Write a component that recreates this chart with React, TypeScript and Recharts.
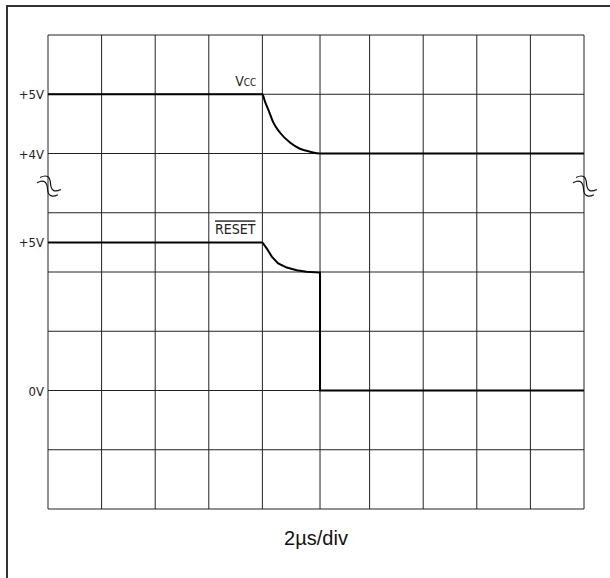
import React from 'react';
import {
  LineChart,
  Line,
  XAxis,
  YAxis,
  CartesianGrid,
  ReferenceDot,
} from 'recharts';

// time axis, microseconds (2us per division)
const TIME_TICKS = [0, 2, 4, 6, 8, 10.15, 12, 14, 16, 18, 20];
// graticule rows, in Vcc volts (1V/div)
const ROW_TICKS = [-2, -1, 0, 1, 2, 3, 4, 5, 6];

// Vcc trace (1V/div)
const VCC_T = [0, 8, 8.1, 8.22, 8.41, 8.66, 9.04, 9.4, 9.78, 10.15, 20];
const VCC_V = [5, 5, 4.87, 4.74, 4.52, 4.35, 4.18, 4.08, 4.03, 4.0, 4.0];

// RESET trace (2V/div)
const RESET_T = [0, 8, 8.16, 8.35, 8.59, 8.91, 9.28, 9.65, 10.15, 10.15, 20];
const RESET_V = [5, 5, 4.8, 4.52, 4.29, 4.15, 4.06, 4.01, 3.98, 0, 0];

const VCC_LABELS = [4, 5];
const RESET_LABELS = [0, 5];

const BREAK_AT = [0, 20];
const BREAK_V = 3.45;

// axis domains chosen so both traces share the 8-division graticule
const VCC_DOMAIN: [number, number] = [-2, 6];
const RESET_DOMAIN: [number, number] = [-4, 12];

const FONT = "'Liberation Sans Narrow', 'Arial Narrow', 'DejaVu Sans Condensed', sans-serif";
const GRID = '#222';

const vccData = VCC_T.map((t, i) => ({ t, v: VCC_V[i] }));
const resetData = RESET_T.map((t, i) => ({ t, v: RESET_V[i] }));

// RESET volts expressed on the Vcc axis
const resetOnVcc = (v: number) =>
  VCC_DOMAIN[0] +
  ((v - RESET_DOMAIN[0]) / (RESET_DOMAIN[1] - RESET_DOMAIN[0])) * (VCC_DOMAIN[1] - VCC_DOMAIN[0]);

const fmtV = (v: number) => (v === 0 ? '0V' : `+${v}V`);

const labelTicks: { at: number; text: string }[] = [
  ...VCC_LABELS.map((v) => ({ at: v, text: fmtV(v) })),
  ...RESET_LABELS.map((v) => ({ at: resetOnVcc(v), text: fmtV(v) })),
].sort((a, b) => a.at - b.at);

const NoTick = () => <g />;

const VoltTick = (props: any) => {
  const { x, y, payload } = props;
  const text = labelTicks.find((l) => l.at === payload.value)?.text ?? '';
  return (
    <text x={x} y={y} dy={5} textAnchor="end" fill="#222" fontSize={13} fontFamily={FONT}>
      {text}
    </text>
  );
};

// scope "trace break" symbol
const BreakMark = (props: any) => {
  const { cx, cy } = props;
  return (
    <g transform={`translate(${cx + 1},${cy}) rotate(30)`} fill="none" stroke="#111" strokeWidth={1.2}>
      <path d="M-12,-3 C-8,-9 -4,-9 0,-3 S8,3 12,-3" />
      <path d="M-12,3 C-8,-3 -4,-3 0,3 S8,9 12,3" />
    </g>
  );
};

export default function App() {
  return (
    <div
      style={{
        position: 'absolute',
        left: 0,
        top: 0,
        width: 610,
        height: 578,
        overflow: 'hidden',
        background: '#fff',
        fontFamily: FONT,
      }}
    >
      <div
        style={{
          position: 'absolute',
          left: 6,
          top: 5,
          width: 700,
          height: 700,
          borderLeft: '2px solid #333',
          borderTop: '2px solid #333',
        }}
      />
      <div style={{ position: 'absolute', left: 0, top: 0 }}>
        <LineChart width={610} height={578} margin={{ top: 35, right: 26, left: 8, bottom: 19 }}>
          <CartesianGrid
            yAxisId="vcc"
            stroke={GRID}
            strokeWidth={1}
            horizontalValues={ROW_TICKS}
            verticalValues={TIME_TICKS}
          />
          <XAxis
            type="number"
            dataKey="t"
            domain={[0, 20]}
            ticks={TIME_TICKS}
            interval={0}
            tick={NoTick}
            tickLine={false}
            axisLine={false}
            height={50}
            label={{
              value: '2\u00b5s/div',
              position: 'insideBottom',
              offset: 14,
              fill: '#111',
              fontSize: 20,
              fontFamily: "'Liberation Sans', Arial, sans-serif",
            }}
          />
          <YAxis
            yAxisId="vcc"
            orientation="left"
            width={40}
            type="number"
            domain={VCC_DOMAIN}
            ticks={labelTicks.map((l) => l.at)}
            tick={VoltTick}
            tickLine={false}
            axisLine={false}
            tickSize={2}
            tickMargin={2}
            interval={0}
          />
          <YAxis yAxisId="rst" orientation="right" hide width={0} type="number" domain={RESET_DOMAIN} />
          <Line
            yAxisId="vcc"
            data={vccData}
            dataKey="v"
            type="monotone"
            stroke="#000"
            strokeWidth={2}
            dot={false}
            isAnimationActive={false}
          />
          <Line
            yAxisId="rst"
            data={resetData}
            dataKey="v"
            type="linear"
            stroke="#000"
            strokeWidth={2}
            dot={false}
            isAnimationActive={false}
          />
          <ReferenceDot
            yAxisId="vcc"
            x={8}
            y={5}
            r={0}
            shape={(p: any) => (
              <text x={p.cx - 6} y={p.cy - 8} textAnchor="end" fill="#222" fontFamily={FONT} fontSize={14}>
                V<tspan fontSize={10}>CC</tspan>
              </text>
            )}
          />
          <ReferenceDot
            yAxisId="rst"
            x={8}
            y={5}
            r={0}
            shape={(p: any) => (
              <text
                x={p.cx - 7}
                y={p.cy - 8}
                textAnchor="end"
                fill="#222"
                fontFamily={FONT}
                fontSize={14}
                style={{ textDecoration: 'overline' }}
              >
                RESET
              </text>
            )}
          />
          {BREAK_AT.map((x) => (
            <ReferenceDot key={x} yAxisId="vcc" x={x} y={BREAK_V} r={0} shape={BreakMark} />
          ))}
        </LineChart>
      </div>
    </div>
  );
}
